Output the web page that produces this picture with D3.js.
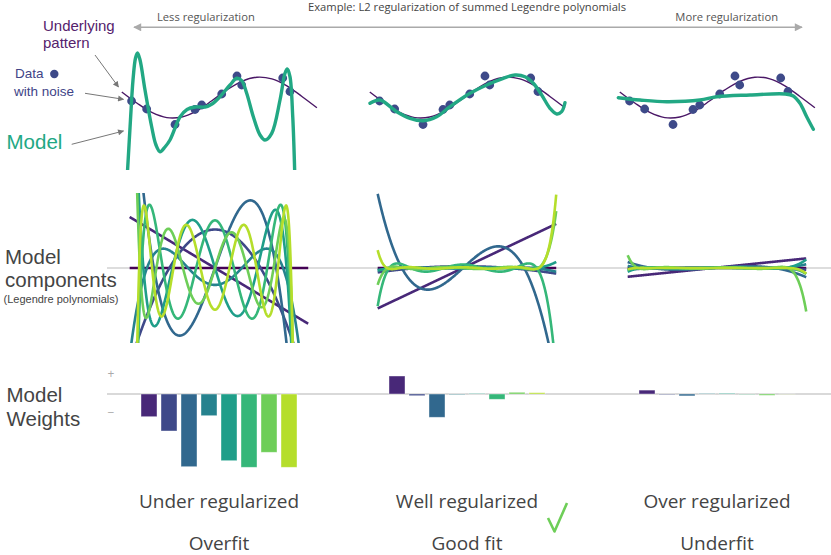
<!DOCTYPE html>
<html><head><meta charset="utf-8">
<script src="https://cdn.jsdelivr.net/npm/d3@7"></script>
<style>body{margin:0;background:#fff} svg{display:block} text{font-family:"Open Sans",sans-serif} text.lab{font-family:"Liberation Sans",Arial,sans-serif}</style>
</head><body><svg id="chart" width="831" height="555"></svg>
<script>
// ---------------- data ----------------
const columnTitles = ["Under regularized", "Well regularized", "Over regularized"];
const fitTitles = ["Overfit", "Good fit", "Underfit"];
const regLabels = ["Less regularization", "More regularization"];
const exampleTitle = "Example: L2 regularization of summed Legendre polynomials";
const weightSigns = ["+", "\u2212"];

// noisy data points (x in Legendre domain, y in pattern units)
const dataX = [-1.056, -0.865, -0.506, -0.253, -0.168, 0.085, 0.278, 0.338, 0.857, 0.949];
const dataY = [-0.171, -0.561, -1.317, -0.585, -0.366, 0.171, 1.049, 0.610, 0.951, 0.293];

// underlying pattern
const patternX = [-1.18, -0.99, -0.80, -0.61, -0.42, -0.23, -0.04, 0.15, 0.34, 0.53, 0.72, 0.91, 1.10, 1.29];
const patternY = [0.27, -0.27, -0.73, -0.98, -0.95, -0.65, -0.16, 0.37, 0.79, 0.99, 0.91, 0.57, 0.05, -0.50];

// fitted models
const modelUnderX = [-1.108, -1.070, -1.038, -1.006, -0.981, -0.949, -0.886, -0.801, -0.747, -0.696, -0.633, -0.570, -0.443, -0.354, -0.253, -0.127, -0.038, 0.063, 0.190, 0.275, 0.338, 0.401, 0.485, 0.570, 0.633, 0.718, 0.823, 0.886, 0.915, 0.949, 0.984, 1.009];
const modelUnderY = [-3.634, -1.098, 0.854, 1.927, 2.171, 1.829, 0.366, -1.439, -2.317, -2.644, -2.415, -2.073, -0.951, -0.585, -0.463, -0.463, -0.317, 0.039, 0.610, 0.937, 0.820, 0.205, -0.937, -1.829, -2.073, -1.746, -0.122, 1.180, 1.390, 1.015, -0.937, -3.634];
const modelWellX = [-1.177, -1.051, -0.839, -0.671, -0.503, -0.333, -0.165, 0.089, 0.300, 0.510, 0.658, 0.785, 0.890, 0.996, 1.101, 1.186, 1.249, 1.291];
const modelWellY = [-0.283, -0.122, -0.693, -1.015, -1.132, -0.937, -0.449, 0.205, 0.610, 0.937, 1.098, 1.015, 0.693, 0.122, -0.527, -0.805, -0.693, -0.254];
const modelOverX = [-1.199, -0.924, -0.586, -0.165, 0.047, 0.468, 0.911, 1.016, 1.101, 1.186, 1.270];
const modelOverY = [-0.010, -0.122, -0.205, -0.122, 0.039, 0.122, 0.171, 0.073, -0.283, -0.937, -1.551];

// Legendre weights P0..P8 for each regime
const weightsUnder = [0, -2.27, -3.70, -7.27, -2.17, -6.67, -7.33, -5.83, -7.33];
const weightsWell  = [0, 1.80, -0.17, -2.33, -0.05, 0.05, -0.53, 0.17, 0.13];
const weightsOver  = [0, 0.39, -0.05, -0.19, 0.05, 0.07, -0.03, -0.13, -0.01];
const componentDomain = [-1.08, 1.18];

// ---------------- layout ----------------
const svg = d3.select("#chart");
const offsets = [0, 248, 498];
const models = [[modelUnderX, modelUnderY], [modelWellX, modelWellY], [modelOverX, modelOverY]];
const weights = [weightsUnder, weightsWell, weightsOver];
const viridis = i => d3.interpolateViridis(i / 9);
const modelColor = "#22a884";
const dotColor = "#3e4a89";

const yTop = d3.scaleLinear().domain([-1, 1]).range([118, 77]);
const yComp = d3.scaleLinear().domain([-1, 1]).range([288.8, 247.2]);
const yBar = d3.scaleLinear().domain([-1, 1]).range([404, 384]);

function legendre(n, x) {
  if (n === 0) return 1;
  let p0 = 1, p1 = x;
  for (let k = 1; k < n; k++) { const p2 = ((2 * k + 1) * x * p1 - k * p0) / (k + 1); p0 = p1; p1 = p2; }
  return p1;
}

const defs = svg.append("defs");
defs.append("clipPath").attr("id", "clipTop").append("rect").attr("x", 0).attr("y", 40).attr("width", 831).attr("height", 130);
defs.append("clipPath").attr("id", "clipComp").append("rect").attr("x", 0).attr("y", 193).attr("width", 831).attr("height", 150);
function marker(id, color, w, h) {
  defs.append("marker").attr("id", id).attr("viewBox", "0 0 10 10").attr("refX", 9).attr("refY", 5)
    .attr("markerWidth", w).attr("markerHeight", h).attr("orient", "auto-start-reverse").attr("markerUnits", "userSpaceOnUse")
    .append("path").attr("d", "M0,0 L10,5 L0,10 Z").attr("fill", color);
}
marker("arrBig", "#aaa", 13, 8);
marker("arrSmall", "#777", 8, 6);

function label(x, y, txt, size, color, cls) {
  return svg.append("text").attr("class", cls || null).attr("x", x).attr("y", y).attr("font-size", size).attr("fill", color).text(txt);
}

// top regularization arrow
svg.append("line").attr("x1", 134).attr("x2", 802).attr("y1", 27.3).attr("y2", 27.3)
  .attr("stroke", "#aaa").attr("stroke-width", 1.5)
  .attr("marker-start", "url(#arrBig)").attr("marker-end", "url(#arrBig)");
label(467, 10.5, exampleTitle, 11.2, "#444").attr("text-anchor", "middle");
label(157, 21, regLabels[0], 11.2, "#555");
label(778, 21, regLabels[1], 11.2, "#555").attr("text-anchor", "end");

// axes lines for rows 2 and 3
svg.append("line").attr("x1", 107).attr("x2", 831).attr("y1", yComp(0)).attr("y2", yComp(0)).attr("stroke", "#bbb").attr("stroke-width", 1.2);
svg.append("line").attr("x1", 107).attr("x2", 831).attr("y1", yBar(0)).attr("y2", yBar(0)).attr("stroke", "#ccc").attr("stroke-width", 1.5);
label(111, 378, weightSigns[0], 12, "#aaa").attr("text-anchor", "middle");
label(111, 416.5, weightSigns[1], 12, "#aaa").attr("text-anchor", "middle");

columnTitles.forEach((title, c) => {
  const off = offsets[c];
  const x = d3.scaleLinear().domain([-1, 1]).range([136 + off, 294 + off]);
  const gTop = svg.append("g").attr("clip-path", "url(#clipTop)");
  // underlying pattern
  gTop.append("path").datum(d3.zip(patternX, patternY))
    .attr("d", d3.line().x(d => x(d[0])).y(d => yTop(d[1])).curve(d3.curveCatmullRom))
    .attr("fill", "none").attr("stroke", "#4a1766").attr("stroke-width", 1.4);
  // data points
  gTop.selectAll("circle").data(d3.zip(dataX, dataY)).join("circle")
    .attr("cx", d => x(d[0])).attr("cy", d => yTop(d[1])).attr("r", 4.4).attr("fill", dotColor);
  // model
  gTop.append("path").datum(d3.zip(models[c][0], models[c][1]))
    .attr("d", d3.line().x(d => x(d[0])).y(d => yTop(d[1])).curve(d3.curveCatmullRom))
    .attr("fill", "none").attr("stroke", modelColor).attr("stroke-width", 3.4).attr("stroke-linecap", "round");

  // components
  const gComp = svg.append("g").attr("clip-path", "url(#clipComp)");
  const xs = d3.range(componentDomain[0], componentDomain[1] + 1e-9, 0.004);
  weights[c].forEach((w, n) => {
    gComp.append("path").datum(xs)
      .attr("d", d3.line().x(v => x(v)).y(v => yComp(w * legendre(n, v))))
      .attr("fill", "none").attr("stroke", viridis(n)).attr("stroke-width", 2.6);
  });

  // weight bars
  const xb = d3.scaleBand().domain(d3.range(1, 9)).range([139 + off, 299 + off]).paddingInner(0.2).paddingOuter(0.1);
  svg.append("g").selectAll("rect").data(weights[c].slice(1).map((w, i) => [i + 1, w])).join("rect")
    .attr("x", d => xb(d[0])).attr("width", xb.bandwidth())
    .attr("y", d => Math.min(yBar(d[1]), yBar(0))).attr("height", d => Math.abs(yBar(d[1]) - yBar(0)))
    .attr("fill", d => viridis(d[0])).attr("stroke", "#fff").attr("stroke-opacity", 0.5).attr("stroke-width", 0.8);

  // titles
  label(219 + off, 508.3, title, 19, "#444").attr("text-anchor", "middle");
  label(219 + off, 550, fitTitles[c], 19, "#444").attr("text-anchor", "middle");
});

// check mark
svg.append("path").attr("d", d3.line()([[548, 518], [554.5, 531.5], [567, 503]]))
  .attr("fill", "none").attr("stroke", "#6ece58").attr("stroke-width", 2.6).attr("stroke-linejoin", "round");

// left annotations
label(43, 30.7, "Underlying", 15, "#55226c", "lab");
label(43, 48.3, "pattern", 15, "#55226c", "lab");
label(15, 78.3, "Data", 13.5, "#414487", "lab");
svg.append("circle").attr("cx", 54.3).attr("cy", 74).attr("r", 4.2).attr("fill", dotColor);
label(14, 95.7, "with noise", 13.5, "#414487", "lab");
label(6.5, 149, "Model", 20.5, modelColor, "lab");
[[95, 55, 118.5, 87], [85, 93.3, 123.5, 99.3], [71.7, 144.3, 123.5, 131]].forEach(a => {
  svg.append("line").attr("x1", a[0]).attr("y1", a[1]).attr("x2", a[2]).attr("y2", a[3])
    .attr("stroke", "#777").attr("stroke-width", 1).attr("marker-end", "url(#arrSmall)");
});

label(5, 264, "Model", 20.5, "#444", "lab");
label(5, 287.3, "components", 20.5, "#444", "lab");
label(3.5, 302.7, "(Legendre polynomials)", 11, "#444", "lab");
label(6.5, 401.7, "Model", 20.5, "#444", "lab");
label(6.5, 426, "Weights", 20.5, "#444", "lab");
</script></body></html>
